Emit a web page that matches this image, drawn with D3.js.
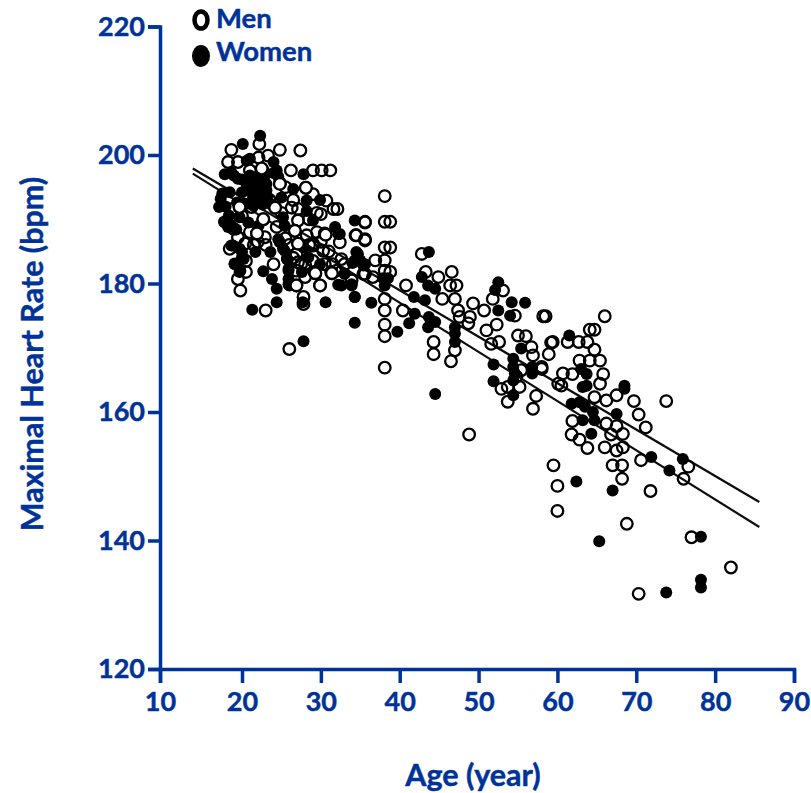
<!DOCTYPE html>
<html>
<head>
<meta charset="utf-8">
<script src="https://cdn.jsdelivr.net/npm/d3@7"></script>
<style>
	html, body { margin: 0; background: #fff; }
	svg { display: block; }
	text { font-family: Lato, "Open Sans", sans-serif; font-weight: 700; fill: #003399; stroke: #003399; stroke-width: 0.45px; }
</style>
</head>
<body>
<svg class="chart" width="811" height="793"></svg>
<script>
const xTicks = [10, 20, 30, 40, 50, 60, 70, 80, 90]
const yTicks = [120, 140, 160, 180, 200, 220]
const legendLabels = ["Men", "Women"]

const menAge = [
	18.7, 22.2, 24.8, 27.4, 26.2, 29.0, 30.1, 31.2, 18.3, 19.5, 22.1, 23.3, 22.6, 21.0, 24.8, 28.1, 29.0, 30.7, 31.6, 32.1,
	30.0, 24.2, 26.3, 27.1, 18.9, 19.7, 21.2, 22.7, 27.1, 21.9, 26.7, 28.2, 30.6, 32.4, 19.5, 20.4, 18.5, 22.9, 24.4, 27.1,
	29.0, 30.3, 32.6, 26.9, 27.1, 26.9, 29.3, 31.4, 29.9, 26.9, 20.5, 19.5, 19.8, 23.0, 27.8, 27.8, 26.0, 35.4, 35.6, 34.5,
	35.6, 33.9,
	20.0, 21.0, 22.0, 23.0, 24.0, 25.0, 25.5, 26.0, 26.5, 27.5, 28.0, 28.5, 29.5, 30.0, 31.0, 31.5, 32.0, 33.0, 28.5, 29.5,
	23.5, 25.5, 26.5, 21.5, 19.0, 20.5, 28.0, 29.0, 30.5, 29.0, 30.5, 31.3, 29.2,
	38.1, 38.1, 38.8, 35.6, 34.4, 35.6, 38.1, 38.8, 36.9, 38.1, 36.6, 38.1, 38.8, 35.6, 38.1, 38.1, 38.1, 38.1, 38.1, 42.8,
	43.3, 44.9, 46.6, 47.2, 46.4, 47.0, 45.4, 40.8, 40.4, 44.3, 44.3, 46.5, 47.0, 47.4, 49.3, 50.7, 48.9, 47.6, 48.7, 51.0,
	52.3, 51.8, 53.1, 51.6, 52.6, 54.6, 58.5, 58.2, 59.2, 58.9, 55.0, 56.0, 56.7, 56.9, 58.0, 60.1, 57.3, 56.9, 53.7, 55.2,
	52.9, 54.8, 53.7, 48.8, 55.4,
	66.0, 64.1, 64.7, 59.4, 61.3, 62.7, 63.8, 64.7, 62.8, 64.1, 65.4, 58.0, 60.7, 61.9, 65.8, 60.5, 65.4, 64.7, 67.5, 66.2,
	69.7, 73.8, 70.3, 71.2, 61.9, 61.8, 62.8, 63.8, 67.5, 66.2, 66.8, 68.3, 66.0, 67.5, 68.3, 67.0, 68.2, 68.2, 70.6, 76.6,
	76.0, 59.5, 60.0, 60.0, 71.8, 68.8, 77.0, 82.0, 70.3
]
const menHr = [
	200.8, 201.7, 200.8, 200.7, 197.6, 197.6, 197.6, 197.6, 198.9, 198.9, 199.6, 199.9, 197.6, 197.6, 195.6, 194.9, 193.9, 192.9, 191.6, 191.6,
	190.8, 191.8, 191.8, 191.6, 191.6, 191.9, 191.9, 190.0, 189.8, 187.8, 188.2, 187.5, 187.6, 186.4, 187.2, 186.2, 185.4, 187.2, 188.8, 186.2,
	185.9, 185.1, 183.8, 184.6, 183.3, 182.0, 181.6, 181.6, 179.7, 179.7, 181.8, 180.7, 178.9, 175.8, 177.9, 176.8, 169.8, 181.5, 189.5, 187.5,
	186.9, 180.5,
	190.5, 188.0, 186.5, 186.0, 183.0, 191.0, 187.0, 186.0, 184.0, 183.0, 181.0, 186.0, 188.0, 186.5, 185.0, 183.0, 182.0, 183.0, 190.0, 191.0,
	193.0, 195.0, 193.0, 186.0, 188.5, 183.5, 183.0, 183.5, 183.0, 186.2, 187.8, 181.8, 181.8,
	193.6, 189.6, 189.6, 189.6, 187.5, 186.7, 185.6, 185.6, 183.6, 183.6, 181.0, 182.0, 181.8, 181.5, 177.6, 175.8, 173.6, 171.8, 166.9, 184.6,
	181.8, 181.0, 181.8, 179.7, 179.7, 177.6, 177.6, 179.7, 175.8, 170.9, 169.0, 167.9, 169.6, 175.8, 176.9, 175.8, 174.8, 174.8, 173.8, 172.7,
	173.6, 177.6, 178.9, 170.6, 170.9, 175.0, 174.9, 174.9, 170.8, 169.0, 171.9, 171.8, 170.1, 168.8, 167.0, 164.4, 162.5, 160.5, 161.6, 163.9,
	163.6, 165.5, 163.9, 156.5, 166.5,
	174.9, 172.8, 172.8, 170.9, 170.9, 170.9, 170.9, 169.7, 168.0, 168.0, 168.0, 166.7, 166.0, 165.9, 165.9, 164.1, 164.4, 162.3, 162.6, 161.8,
	161.7, 161.7, 159.6, 157.6, 158.6, 156.5, 155.7, 154.4, 157.8, 158.2, 156.5, 156.6, 154.5, 154.0, 154.5, 151.7, 151.7, 149.6, 152.5, 151.5,
	149.6, 151.7, 148.5, 144.6, 147.7, 142.6, 140.5, 135.8, 131.7
]

const womenAge = [
	61.5, 63.0, 63.7, 63.2, 63.7, 68.5, 68.5, 61.8, 62.8, 63.5, 64.5, 64.7, 63.2, 67.5, 64.3, 71.9, 75.9, 74.2, 62.4, 67.0,
	65.3, 78.2, 78.2, 78.2, 73.8,
	34.3, 34.5, 35.0, 35.4, 33.0, 32.6, 33.9, 34.3, 36.4, 34.3, 39.7, 37.9, 38.5, 38.1, 43.7, 42.8, 43.6, 44.5, 41.8, 43.2,
	41.9, 41.2, 43.7, 44.5, 43.6, 47.0, 47.0, 47.0, 44.5, 52.5, 52.1, 54.2, 54.0, 55.9, 52.5, 51.9, 51.9, 54.4, 54.4, 54.6,
	54.4, 54.4, 55.4, 56.8, 56.8, 32.4, 34.0, 35.6,
	22.3, 20.1, 20.6, 24.0, 24.4, 27.8, 17.9, 18.7, 17.4, 17.2, 19.5, 20.6, 21.4, 22.3, 23.1, 20.6, 21.4, 22.3, 23.1, 21.4,
	22.3, 23.2, 20.0, 18.5, 26.5, 25.0, 29.9, 28.2, 28.2, 29.0, 17.9, 18.3, 19.7, 20.8, 22.1, 25.2, 25.4, 31.8, 32.2, 34.7,
	34.3, 18.7, 19.7, 20.0, 19.1, 19.7, 21.7, 23.6, 24.8, 25.4, 25.7, 25.9, 25.9, 27.8, 28.4, 27.6, 29.9, 33.0, 32.2, 33.9,
	22.7, 23.8, 24.4, 24.4, 21.3, 27.7, 30.6, 34.3, 27.8,
	19.0, 20.0, 21.0, 22.0, 23.0, 19.4, 20.4, 21.5, 22.6, 23.6, 21.0, 24.0, 24.6, 17.6, 18.0, 18.4, 17.8, 18.6, 19.3,
	24.6, 25.2, 25.7, 25.9, 25.9, 26.0, 18.9, 20.0, 20.2, 19.1, 19.8
]
const womenHr = [
	171.9, 166.7, 165.9, 163.9, 164.1, 164.1, 163.6, 161.3, 161.5, 160.8, 160.0, 158.7, 158.7, 159.7, 156.6, 153.0, 152.7, 150.9, 149.2, 147.8,
	139.9, 140.6, 133.9, 132.7, 131.9,
	189.8, 184.9, 183.6, 182.8, 181.5, 179.7, 179.7, 177.9, 177.0, 173.9, 172.5, 180.8, 180.8, 179.7, 184.9, 181.0, 179.7, 179.2, 177.9, 177.4,
	175.3, 173.8, 174.8, 174.0, 173.2, 173.2, 172.2, 170.9, 162.8, 180.2, 179.0, 177.1, 175.0, 177.0, 175.8, 167.4, 164.8, 168.3, 167.0, 166.0,
	164.9, 162.6, 169.9, 167.0, 166.0, 187.7, 183.2, 183.0,
	203.0, 201.7, 199.1, 198.9, 197.6, 197.0, 197.0, 197.3, 193.2, 191.9, 196.3, 195.5, 195.5, 195.5, 195.5, 194.5, 194.5, 194.5, 194.5, 193.4,
	193.4, 193.4, 194.2, 194.2, 194.7, 193.4, 193.0, 192.9, 191.3, 189.8, 189.5, 188.8, 190.3, 189.5, 189.0, 190.3, 189.0, 188.8, 187.7, 184.6,
	183.6, 185.9, 185.4, 184.1, 183.1, 181.8, 184.9, 184.9, 186.4, 185.1, 183.8, 182.0, 179.9, 185.6, 184.1, 181.8, 183.0, 181.5, 179.8, 179.9,
	181.9, 180.7, 179.2, 177.1, 175.9, 177.1, 177.1, 177.9, 171.0,
	196.8, 196.2, 196.8, 196.4, 197.0, 192.6, 192.4, 192.2, 192.3, 192.4, 199.4, 197.2, 196.6, 194.0, 192.0, 190.6, 189.6, 189.2, 188.4,
	186.9, 185.4, 183.8, 182.3, 180.7, 179.7, 185.9, 184.9, 183.8, 183.0, 182.0
]

// rings lying over the black dots, white inside in the scan
const topMenAge = [22.5, 24.8, 24.2, 21.9, 22.7, 26.7, 27.1, 30.6, 29.9, 28.1, 19.7, 26.9, 29.3, 31.4]
const topMenHr = [197.9, 195.5, 191.8, 187.8, 190.0, 188.2, 186.2, 187.6, 179.7, 194.9, 191.9, 179.7, 181.6, 181.6]

// the two regression lines, men and women
const lineAge = [14, 85.6]
const menLineHr = [197.9, 146]
const womenLineHr = [197.1, 142.1]

const blue = "#003399"
const svg = d3.select("svg.chart")

// the 10 tick sits a little left of the regular spacing in the reference
const xScale = d3.scaleLinear()
	.domain([10, 20, 90])
	.range([160, 242, 794])

const yScale = d3.scaleLinear()
	.domain([120, 220])
	.range([669, 26.5])

// the source is a scanned figure, a touch of blur on the marks
svg.append("defs")
	.append("filter")
	.attr("id", "scan")
	.append("feGaussianBlur")
	.attr("stdDeviation", 0.6)

const plot = svg.append("g").attr("filter", "url(#scan)")

const drawLine = d3.line()
	.x((d, i) => xScale(lineAge[i]))
	.y(d => yScale(d))

plot.selectAll("path.fit")
	.data([menLineHr, womenLineHr])
	.enter()
	.append("path")
	.attr("class", "fit")
	.attr("d", d => drawLine(d))
	.attr("fill", "none")
	.attr("stroke", "#111")
	.attr("stroke-width", 2.2)

function drawRings(cls, ages, rates, fill) {
	plot.selectAll("circle." + cls)
		.data(ages)
		.enter()
		.append("circle")
		.attr("class", cls)
		.attr("cx", d => xScale(d))
		.attr("cy", (d, i) => yScale(rates[i]))
		.attr("r", 5.8)
		.attr("fill", fill)
		.attr("stroke", "#000")
		.attr("stroke-width", 2.3)
}

drawRings("men", menAge, menHr, "none")

plot.selectAll("circle.women")
	.data(womenAge)
	.enter()
	.append("circle")
	.attr("class", "women")
	.attr("cx", d => xScale(d))
	.attr("cy", (d, i) => yScale(womenHr[i]))
	.attr("r", 6)
	.attr("fill", "#000")

drawRings("topmen", topMenAge, topMenHr, "#fff")

const xAxis = d3.axisBottom(xScale)
	.tickValues(xTicks)
	.tickSize(14)
	.tickPadding(9)
	.tickFormat(d3.format("d"))

const yAxis = d3.axisLeft(yScale)
	.tickValues(yTicks)
	.tickSize(12)
	.tickPadding(3)
	.tickFormat(d3.format("d"))

const xGroup = svg.append("g")
	.attr("transform", "translate(0,669)")
	.call(xAxis)

const yGroup = svg.append("g")
	.attr("transform", "translate(160,0)")
	.call(yAxis)

for (const g of [xGroup, yGroup]) {
	g.attr("font-family", null).attr("font-size", null)
	g.selectAll("path.domain").attr("stroke", blue).attr("stroke-width", 3.5)
	g.selectAll("line").attr("stroke", blue).attr("stroke-width", 3.5)
	g.selectAll("text").style("font-size", "27px")
}

svg.append("text")
	.attr("x", 473)
	.attr("y", 786)
	.attr("text-anchor", "middle")
	.style("font-size", "30.5px")
	.text("Age (year)")

svg.append("text")
	.attr("transform", "translate(43,354) rotate(-90)")
	.attr("text-anchor", "middle")
	.style("font-size", "30.5px")
	.text("Maximal Heart Rate (bpm)")

// legend
svg.append("ellipse")
	.attr("cx", 201)
	.attr("cy", 20)
	.attr("rx", 6.5)
	.attr("ry", 8.5)
	.attr("fill", "#fff")
	.attr("stroke", "#000")
	.attr("stroke-width", 4.5)

svg.append("ellipse")
	.attr("cx", 201)
	.attr("cy", 56)
	.attr("rx", 9)
	.attr("ry", 11)
	.attr("fill", "#000")

svg.selectAll("text.legend")
	.data(legendLabels)
	.enter()
	.append("text")
	.attr("class", "legend")
	.attr("x", 216)
	.attr("y", (d, i) => 28 + i * 33)
	.style("font-size", "27.5px")
	.text(d => d)
</script>
</body>
</html>
